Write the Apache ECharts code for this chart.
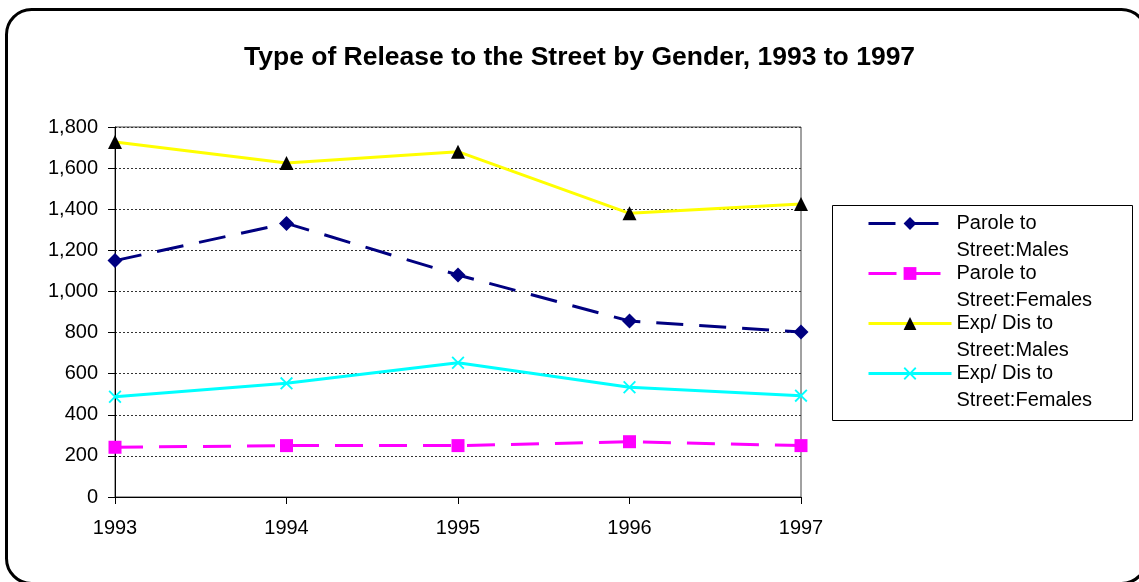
<!DOCTYPE html>
<html>
<head>
<meta charset="utf-8">
<script src="https://cdn.jsdelivr.net/npm/echarts@6/dist/echarts.min.js"></script>
<style>
html,body{margin:0;padding:0;background:#fff;}
#chart{width:1139px;height:582px;}
</style>
</head>
<body>
<div id="chart"></div>
<script>
const categories = ['1993', '1994', '1995', '1996', '1997'];
const seriesNames = ['Parole to Street:Males', 'Parole to Street:Females', 'Exp/ Dis to Street:Males', 'Exp/ Dis to Street:Females'];
const paroleMales = [1150, 1331, 1080, 856, 803];
const paroleFemales = [242, 250, 250, 269, 250];
const expMales = [1727, 1625, 1680, 1380, 1425];
const expFemales = [488, 553, 653, 534, 493];
const titleText = 'Type of Release to the Street by Gender, 1993 to 1997';

const FONT = 'Arial, "Liberation Sans", sans-serif';
const xSymbol = 'path://M0,1L1,0L5,4L9,0L10,1L6,5L10,9L9,10L5,6L1,10L0,9L4,5Z';

const chart = echarts.init(document.getElementById('chart'), null, {renderer: 'canvas'});
chart.setOption({
  animation: false,
  backgroundColor: '#fff',
  title: {
    text: titleText,
    left: 244,
    top: 44,
    padding: 0,
    textStyle: {fontFamily: FONT, fontSize: 26.5, fontWeight: 'bold', color: '#000'}
  },
  graphic: [
    {type: 'rect', z: 0, silent: true,
     shape: {x: 6.5, y: 9.5, width: 1140, height: 574, r: 25},
     style: {fill: 'none', stroke: '#000', lineWidth: 3}},
    {type: 'rect', z: 0, silent: true,
     shape: {x: 832.5, y: 205.5, width: 300, height: 215},
     style: {fill: '#fff', stroke: '#000', lineWidth: 1}}
  ],
  legend: {
    orient: 'vertical',
    left: 867,
    top: 183,
    padding: 0,
    itemGap: -31,
    itemWidth: 83,
    itemHeight: 16,
    data: seriesNames,
    lineStyle: {width: 3},
    formatter: function (name) { return '\n' + name.replace(' Street', '\nStreet'); },
    textStyle: {fontFamily: FONT, fontSize: 20, color: '#000', lineHeight: 27}
  },
  grid: {
    left: 115, right: 338, top: 127, bottom: 85,
    show: true, borderColor: '#444', borderWidth: 1, backgroundColor: 'transparent'
  },
  xAxis: {
    type: 'category',
    data: categories,
    boundaryGap: false,
    axisLine: {lineStyle: {color: '#000', width: 1}},
    axisTick: {show: true, length: 7, lineStyle: {color: '#000'}},
    axisLabel: {fontFamily: FONT, fontSize: 20, color: '#000', margin: 21},
    splitLine: {show: false}
  },
  yAxis: {
    type: 'value',
    min: 0, max: 1800, interval: 200,
    axisLine: {show: true, lineStyle: {color: '#000', width: 1}},
    axisTick: {show: true, length: 7, lineStyle: {color: '#000'}},
    axisLabel: {fontFamily: FONT, fontSize: 20, color: '#000', margin: 17,
      formatter: function (v) { return v.toLocaleString('en-US'); }},
    splitLine: {show: true, lineStyle: {color: '#333', width: 1, type: [2, 2]}}
  },
  series: [
    {name: seriesNames[0], type: 'line', data: paroleMales,
     symbol: 'diamond', symbolSize: 15,
     itemStyle: {color: '#000080'},
     lineStyle: {color: '#000080', width: 3, type: [27, 16]}},
    {name: seriesNames[1], type: 'line', data: paroleFemales,
     symbol: 'rect', symbolSize: 13,
     itemStyle: {color: '#ff00ff'},
     lineStyle: {color: '#ff00ff', width: 3, type: [28, 16]}},
    {name: seriesNames[2], type: 'line', data: expMales,
     symbol: 'triangle', symbolSize: 14,
     itemStyle: {color: '#000'},
     lineStyle: {color: '#ffff00', width: 3}},
    {name: seriesNames[3], type: 'line', data: expFemales,
     symbol: xSymbol, symbolSize: 13,
     itemStyle: {color: '#00ffff'},
     lineStyle: {color: '#00ffff', width: 3}}
  ]
});
</script>
</body>
</html>
